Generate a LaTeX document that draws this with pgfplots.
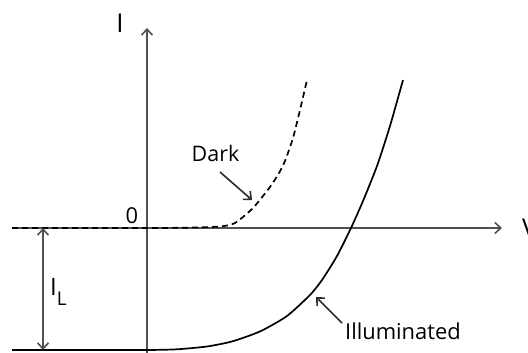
\documentclass[border=0pt]{standalone}
\usepackage{fontspec}
\setmainfont{Open Sans}
\usepackage{pgfplots}
\pgfplotsset{compat=1.18}
\usetikzlibrary{arrows.meta}

\definecolor{axisgray}{HTML}{505050}
\definecolor{labelgray}{HTML}{2b2b2b}

% I-V characteristic of a solar cell, in the dark and under illumination
\pgfplotstableread{
V      I
-135   0
-60    0
0      0
40     0.3
73     1.5
88     5
106    20
123    41
132    55
138    67
146    90
153    118
160    148
}\darkcurve

\pgfplotstableread{
V      I
-135  -122
-60   -122
0     -122
30    -121.3
60    -118.5
83    -114
100   -108.5
116   -102
140   -88
163   -67
175   -52
190   -28
204    0
216    27
230    62
243    102
256    148
}\lightcurve

\tikzset{barb/.style={-{Straight Barb[length=6bp,width=11bp,line width=1.6bp]}}}

\begin{document}
\begin{tikzpicture}
\useasboundingbox (0,0) rectangle (528bp,353bp);
\clip (0,0) rectangle (528bp,353bp);
\begin{axis}[
  x=1bp, y=1bp,
  xmin=-135, xmax=355, ymin=-125, ymax=200,
  axis lines=middle,
  axis line style={draw=axisgray, line width=1.8bp, barb},
  xtick=\empty, ytick=\empty,
  clip=false,
  anchor=south west, at={(12bp,0bp)},
  every node/.style={text=labelgray},
]
\addplot[black, line width=1.7bp, dash pattern=on 6bp off 4bp, smooth, tension=0.4]
  table[x=V, y=I] {\darkcurve};
\addplot[black, line width=1.7bp, smooth, tension=0.4]
  table[x=V, y=I] {\lightcurve};

% light-generated current I_L
\draw[axisgray, line width=1.8bp,
  {Straight Barb[length=6bp,width=11bp,line width=1.6bp]}-{Straight Barb[length=6bp,width=11bp,line width=1.6bp]}]
  (axis cs:-104,0) -- (axis cs:-104,-122);
\node[anchor=base west, inner sep=0pt, font=\fontsize{24}{26}\selectfont]
  at (axis cs:-97,-67) {I\raisebox{-10bp}{\fontsize{19}{20}\selectfont L}};

% callouts
\draw[labelgray, line width=1.6bp, barb] (axis cs:73,56) -- (axis cs:105,28);
\draw[labelgray, line width=1.6bp, barb] (axis cs:195,-95) -- (axis cs:169,-69);
\node[font=\fontsize{21.5}{24}\selectfont, inner sep=0pt] at (axis cs:68.5,74.5) {Dark};
\node[font=\fontsize{22}{24}\selectfont, inner sep=0pt] at (axis cs:256,-103.5) {Illuminated};

% axis labels
\node[font=\fontsize{22}{24}\selectfont, inner sep=0pt] at (axis cs:-15,12) {0};
\node[font=\fontsize{26}{28}\selectfont, inner sep=0pt] at (axis cs:-27,204.5) {I};
\node[anchor=west, font=\fontsize{26}{28}\selectfont, inner sep=0pt] at (axis cs:375,0) {V};
\end{axis}
\end{tikzpicture}
\end{document}
